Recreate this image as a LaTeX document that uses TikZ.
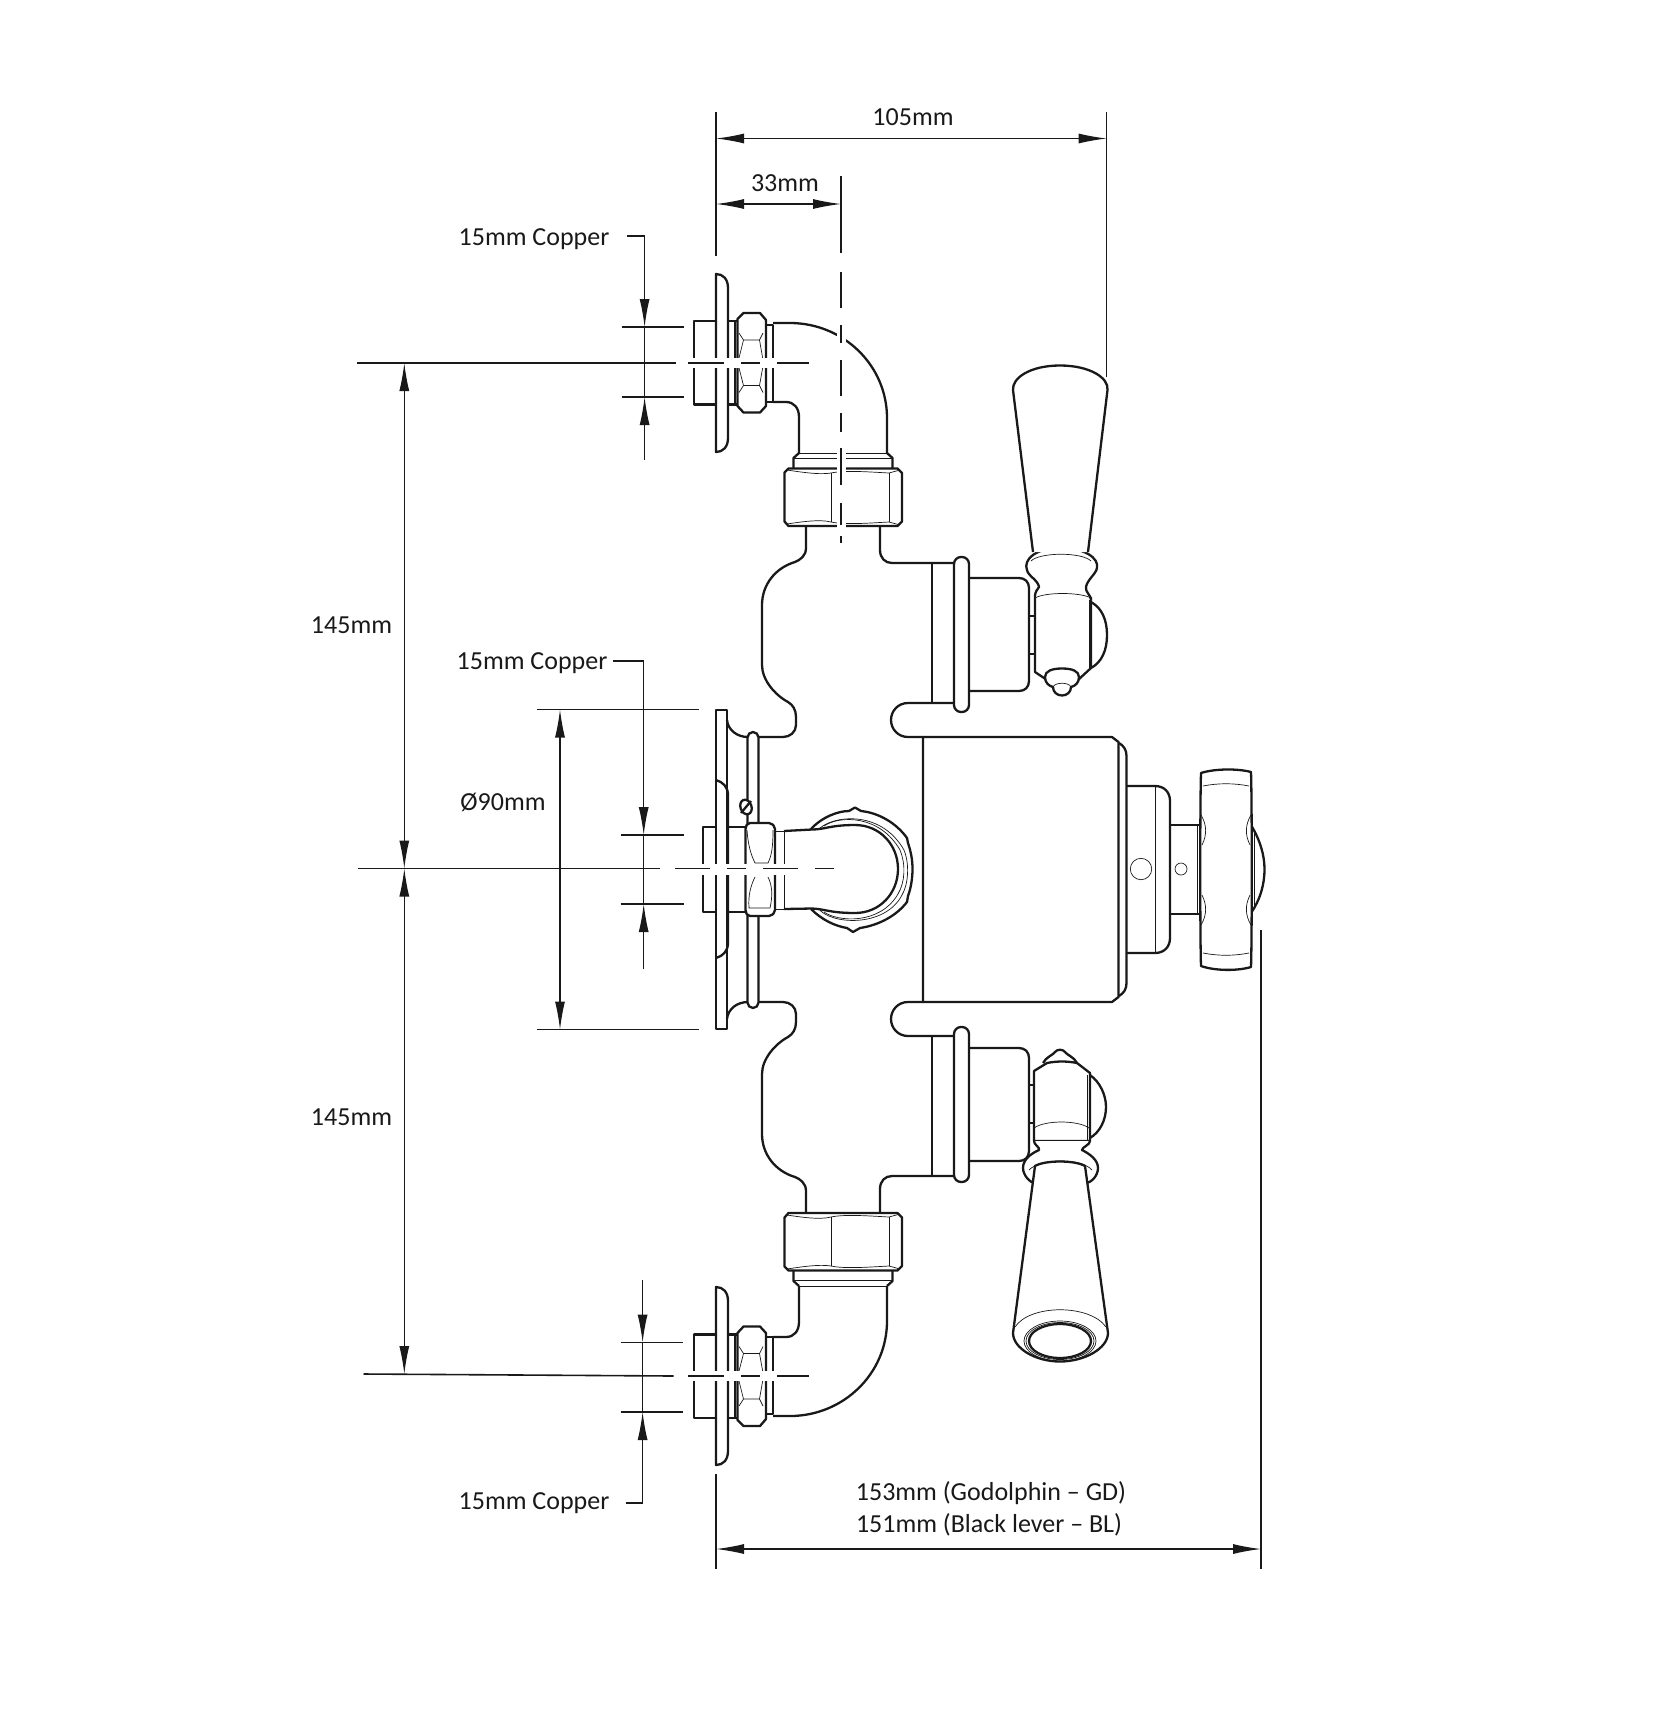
\documentclass[tikz,border=0pt]{standalone}
\usepackage{fontspec}
\setmainfont{Carlito}
\usetikzlibrary{arrows.meta}

% one elbow with its wall plate, drawn for the top inlet and mirrored for the bottom one
\newcommand{\elbowpart}{%
  % plate
  \draw[part] (716,274) .. controls (723,274) and (728,279) .. (728,288) -- (728,438) .. controls (728,447) and (723,452) .. (716,452) -- cycle;
  % stub
  \draw[part] (716,321) -- (694,321) -- (694,404.5) -- (716,404.5);
  \draw[part] (728,321) -- (738,321) (728,404.5) -- (738,404.5) (735,321) -- (735,404.5);
  % small nut
  \draw[part,fill=white] (737.5,319) -- (743.5,313) -- (760,313) -- (766,320) -- (766,406) -- (760,412.5) -- (743.5,412.5) -- (737.5,406) -- cycle;
  \draw[fine] (739,333) -- (743.5,340) -- (759.5,340) -- (763,333);
  \draw[fine] (743.5,340) -- (738.5,360) (759.5,340) -- (763,360);
  \draw[fine] (739,392.5) -- (743.5,385.5) -- (759.5,385.5) -- (763,392.5);
  \draw[fine] (743.5,385.5) -- (738.5,366) (759.5,385.5) -- (763,366);
  \draw[part] (766,325) rectangle (773,402);
  % pipe
  \draw[part] (773,323) -- (790,323) .. controls (843,323) and (887,365) .. (887,418) -- (887,453);
  \draw[part] (773,402) -- (786,402) .. controls (794,402) and (799,408) .. (799,417) -- (799,453);
  \draw[part] (799,453) -- (793.5,458) -- (793.5,468) (887,453) -- (892.5,458) -- (892.5,468);
  \draw[fine] (799,453) -- (887,453) (793.5,458.5) -- (892.5,458.5);
  % big nut
  \draw[part,fill=white] (784.5,472.5) -- (788.5,468.5) -- (897.5,468.5) -- (902,473) -- (902,521.5) -- (897.5,526) -- (788.5,526) -- (784.5,521.5) -- cycle;
  \draw[fine] (831,473) -- (831,522) (889,473) -- (889,522);
  \draw[fine] (787,470) .. controls (800,472) and (820,475) .. (831,473) .. controls (845,470) and (870,472) .. (889,473) -- (900,470);
  \draw[fine] (787,524) .. controls (800,522) and (820,519) .. (831,522) .. controls (845,525) and (870,523) .. (889,522) -- (900,525);
}

% one half of the valve body, mirrored for the other half
\newcommand{\bodypart}{%
  \draw[part] (806,526) -- (806,548) .. controls (806,556) and (800,560) .. (795,562) .. controls (775,568) and (762,585) .. (762,605) -- (762,665) .. controls (762,680) and (775,695) .. (788,702) .. controls (793,705) and (796,710) .. (796,717) -- (796,725) .. controls (796,732) and (790,737) .. (783,737) -- (759,737);
  \draw[part] (727,720) .. controls (728,730) and (737,737) .. (748,737);
  \draw[part] (880,526) -- (880,550) .. controls (880,558) and (885,563) .. (892,563) -- (954,563);
  \draw[part] (954,703) -- (908,703) .. controls (898,703) and (891,711) .. (891,720) .. controls (891,729) and (898,737) .. (908,737) -- (923,737);
  \draw[part] (932,563) -- (932,703);
  \draw[part,rounded corners=7pt] (954,557) rectangle (969,712);
  \draw[part] (969,578) -- (1019,578) .. controls (1025,578) and (1029,582) .. (1029,588) -- (1029,681) .. controls (1029,687) and (1025,691) .. (1019,691) -- (969,691);
  \draw[part] (1029,616) -- (1035,616) (1029,654) -- (1035,654);
}

\begin{document}
\begin{tikzpicture}[x=1pt,y=-1pt,
  part/.style={line width=2.3pt,line join=round,black!90},
  fine/.style={line width=0.7pt,black!90},
  dimline/.style={line width=1.2pt,black!90},
  tickline/.style={line width=1.6pt,black!90},
  dimarrow/.style={dimline,{Latex[length=28pt,width=10pt]}-{Latex[length=28pt,width=10pt]}},
  onearrow/.style={dimline,-{Latex[length=28pt,width=10pt]}},
  centre/.style={line width=1.5pt,black!90},
  gap/.style={white,line width=9pt},
  label/.style={font=\fontsize{26}{28}\selectfont,text=black!90,inner sep=0pt}]
\useasboundingbox (0,0) rectangle (1676,1722);

% Body and elbows
\bodypart
\begin{scope}[shift={(0,869.5)},yscale=-1,shift={(0,-869.5)}]
  \bodypart
  \elbowpart
\end{scope}
\elbowpart

% Middle plate and ring
\draw[part] (716,710) rectangle (727,1029);
\draw[part] (716,780) .. controls (723,782) and (728,787) .. (728,795) -- (728,943) .. controls (728,951) and (723,956) .. (716,958);
\draw[part,rounded corners=5.5pt] (747.5,732) rectangle (758.5,1008);
\draw[part,fill=white,rotate around={20:(746,807)}] (746,807) ellipse (5.5 and 7.5);
\draw[part] (741,813) -- (751,801);
\draw[part] (716,827) -- (703,827) -- (703,912) -- (716,912);
\draw[part] (727,827) -- (746,827) (727,912) -- (746,912);

% Hex nut behind the middle pipe
\draw[part,fill=white] (811,829) .. controls (822,817) and (838,811) .. (849,811) -- (855,807.5) -- (861,811) .. controls (880,813) and (897,824) .. (907,838) -- (908,843) .. controls (911,852) and (912.5,860) .. (912.5,869) .. controls (912.5,878) and (911,888) .. (908,896) -- (907,902) .. controls (897,915) and (880,925) .. (860,928) -- (853,932) -- (847,928) .. controls (835,926) and (822,920) .. (811,909);
\draw[fine] (818,830) .. controls (830,816) and (880,808) .. (904,850) .. controls (910,865) and (908,885) .. (902,895) .. controls (885,928) and (830,925) .. (818,908);
\draw[fine] (824,826) .. controls (840,815) and (880,815) .. (900,850) .. controls (906,865) and (905,882) .. (898,894) .. controls (880,925) and (838,922) .. (824,912);

% Middle pipe
\draw[part,fill=white] (784,831) -- (812,829.5) .. controls (825,829.5) and (830,825) .. (855,825) .. controls (880,825) and (898,845) .. (898,869) .. controls (898,893) and (880,913) .. (855,913) .. controls (830,913) and (825,909) .. (812,908.5) -- (784,909);
\draw[fine] (775,831) rectangle (784,909);

% Middle nut
\draw[part,fill=white,rounded corners=2pt] (745.5,827) -- (748,823) -- (771,823) -- (775,827) -- (775,912) -- (771,916) -- (748,916) -- (745.5,912) -- cycle;
\draw[fine] (747,830) .. controls (748,845) and (751,855) .. (755,863) -- (768,863) .. controls (772,855) and (773,845) .. (773,830);
\draw[fine] (755,877) .. controls (751,885) and (748,895) .. (749,908) -- (770,908) .. controls (773,895) and (772,885) .. (768,877);

% Thermostat cylinder
\draw[part] (1119,743) .. controls (1124,746) and (1126.5,750) .. (1126.5,756) -- (1126.5,983) .. controls (1126.5,989) and (1124,993) .. (1119,996);
\draw[part] (923,737) -- (923,1002) -- (1112,1002) -- (1118.5,997) -- (1118.5,742) -- (1112,737) -- cycle;
\draw[part] (1126.5,786) -- (1155,786) .. controls (1164,786) and (1170,792) .. (1170,801) -- (1170,938) .. controls (1170,947) and (1164,953) .. (1155,953) -- (1126.5,953);
\draw[fine] (1155.5,786) -- (1155.5,953);
\draw[fine] (1141,869) circle (10.7);
\draw[fine] (1181,869) circle (6);
\draw[part] (1170,825) -- (1200,825) (1170,914) -- (1200,914);
\draw[fine] (1197,825) -- (1197,914);

% Cross handle
\draw[part] (1251,825) .. controls (1260,840) and (1264.5,855) .. (1264.5,869) .. controls (1264.5,885) and (1260,900) .. (1251,913);
\draw[fine] (1254,832) -- (1254,906);
\draw[part,fill=white] (1201,773) .. controls (1215,768.5) and (1238,768.5) .. (1251,772) .. controls (1252,800) and (1252,940) .. (1251,967) .. controls (1238,971) and (1215,971) .. (1201,966) .. controls (1200,940) and (1200,800) .. (1201,773) -- cycle;
\draw[fine] (1203,786) .. controls (1218,783) and (1234,783) .. (1249,786);
\draw[fine] (1203,953) .. controls (1218,956) and (1234,956) .. (1249,953);
\draw[fine] (1201,815) .. controls (1207,825) and (1207,835) .. (1202,845);
\draw[fine] (1202,895) .. controls (1207,905) and (1207,915) .. (1201,925);
\draw[fine] (1251,815) .. controls (1245,825) and (1245,835) .. (1250,845);
\draw[fine] (1250,895) .. controls (1245,905) and (1245,915) .. (1251,925);

% Top lever
\draw[part] (1091,602) .. controls (1102,608) and (1107,620) .. (1107,635) .. controls (1107,650) and (1102,662) .. (1091,668);
\draw[part,fill=white] (1035,597) -- (1035,672) -- (1047,680) -- (1078,680) -- (1091,668) -- (1091,597);
\draw[fine] (1089,600) -- (1089,668);
\draw[part,fill=white] (1045,677) .. controls (1045,671) and (1052,668.5) .. (1062,668.5) .. controls (1072,668.5) and (1079,671) .. (1079,677) .. controls (1079,683) and (1075,686) .. (1071,687) .. controls (1071,692) and (1067,695.5) .. (1062,695.5) .. controls (1057,695.5) and (1053,692) .. (1053,687) .. controls (1049,686) and (1045,683) .. (1045,677) -- cycle;
\draw[fine] (1053,687) .. controls (1055,682) and (1069,682) .. (1071,687);
\draw[part,fill=white] (1035,597) .. controls (1035,590) and (1038,590) .. (1039,587) .. controls (1038,580) and (1028,576) .. (1027,570) .. controls (1023,560) and (1035,548) .. (1060,548) .. controls (1085,548) and (1099,558) .. (1097,568) .. controls (1096,574) and (1087,580) .. (1086,587) .. controls (1085,592) and (1091,595) .. (1091,600);
\draw[fine] (1035,598) .. controls (1045,592) and (1080,592) .. (1091,598);
\draw[fine] (1031,561) .. controls (1040,552) and (1082,552) .. (1091,561);
\draw[part,fill=white] (1033,552) -- (1013,390) .. controls (1012,378) and (1030,365.5) .. (1060,365.5) .. controls (1090,365.5) and (1109,378) .. (1107.5,390) -- (1088,552);

% Bottom lever
\draw[part] (1090,1075) .. controls (1100,1082) and (1106,1095) .. (1106,1107) .. controls (1106,1120) and (1100,1132) .. (1090,1138);
\draw[part,fill=white] (1043,1063) .. controls (1046,1057) and (1053,1055) .. (1055,1052) .. controls (1057,1049) and (1063,1049) .. (1065,1052) .. controls (1067,1055) and (1074,1057) .. (1077,1063);
\draw[part,fill=white] (1034,1071) -- (1047,1063) .. controls (1057,1061) and (1067,1061) .. (1077,1063) -- (1090,1073) -- (1090,1141) -- (1034,1141) -- cycle;
\draw[fine] (1087,1075) -- (1087,1140);
\draw[fine] (1034,1128) .. controls (1045,1120) and (1078,1120) .. (1089,1128);
\draw[part,fill=white] (1034,1141) .. controls (1034,1145) and (1040,1147) .. (1039,1150) .. controls (1030,1154) and (1023,1160) .. (1023,1168) .. controls (1023,1175) and (1030,1183) .. (1035,1183) -- (1085,1183) .. controls (1092,1183) and (1098,1175) .. (1098,1168) .. controls (1098,1160) and (1090,1154) .. (1082,1150) .. controls (1082,1147) and (1090,1145) .. (1090,1141);
\draw[part,fill=white] (1035,1166) .. controls (1045,1160) and (1075,1160) .. (1085,1166) -- (1108,1333) .. controls (1108,1348) and (1085,1361.5) .. (1060,1361.5) .. controls (1035,1361.5) and (1013,1348) .. (1013,1333) -- cycle;
\draw[fine] (1029,1170) .. controls (1040,1158) and (1082,1158) .. (1092,1170);
\draw[fine] (1015,1327) .. controls (1030,1304) and (1090,1304) .. (1106,1327);
\draw[part] (1060,1341) ellipse (31 and 17);
\draw[fine] (1060,1341) ellipse (34 and 18.5);
\draw[fine] (1060,1341) ellipse (36 and 20);

% Centre lines
\draw[gap,line width=10pt] (680,363) -- (812,363);
\draw[gap,line width=10pt] (680,1376) -- (812,1376);
\draw[gap,line width=11pt] (695,869) -- (790,869);
\draw[gap] (841,320) -- (841,345);
\draw[gap] (841,450) -- (841,530);
\foreach \a/\b in {176/253,272/308,325/343,360/396,413/432,448/485,503/525,536/543}{
  \draw[centre] (841,\a) -- (841,\b);
}
\foreach \y in {363,1376}{
  \foreach \a/\b in {688/724,741/760,777/809}{
    \draw[centre] (\a,\y) -- (\b,\y);
  }
}
\foreach \a/\b in {675/710,727/746,763/798,815/834}{
  \draw[centre] (\a,868.5) -- (\b,868.5);
}

% Dimension end points
\coordinate (W0) at (716,112);
\coordinate (W1) at (716,256);
\coordinate (W2) at (1106.7,112);
\coordinate (W3) at (1106.7,377);
\coordinate (A0) at (716,138.5);
\coordinate (A1) at (1106.7,138.5);
\coordinate (B0) at (716,204);
\coordinate (B1) at (841,204);
\coordinate (H0) at (357,363);
\coordinate (H1) at (676,363);
\coordinate (H2) at (358,868.5);
\coordinate (H3) at (660,868.5);
\coordinate (H4) at (363.5,1374);
\coordinate (H5) at (673.5,1376);
\coordinate (D0) at (404.3,363);
\coordinate (D1) at (404.3,868.5);
\coordinate (D2) at (404.3,1374);
\coordinate (C0) at (537,709.5);
\coordinate (C1) at (698.5,709.5);
\coordinate (C2) at (537,1029.5);
\coordinate (C3) at (698.5,1029.5);
\coordinate (C4) at (560,709.5);
\coordinate (C5) at (560,1029.5);
\coordinate (F0) at (716,1474);
\coordinate (F1) at (716,1569);
\coordinate (F2) at (1261,930);
\coordinate (F3) at (1261,1569);
\coordinate (F4) at (716,1549);
\coordinate (F5) at (1261,1549);

% Dimensions
\draw[dimline] (W0) -- (W1);
\draw[dimline] (W2) -- (W3);
\draw[dimarrow] (A0) -- (A1);
\draw[dimarrow] (B0) -- (B1);
\draw[tickline] (H0) -- (H1);
\draw[tickline] (H2) -- (H3);
\draw[tickline] (H4) -- (H5);
\draw[dimarrow] (D0) -- (D1);
\draw[dimarrow] (D1) -- (D2);
\draw[tickline] (C0) -- (C1);
\draw[tickline] (C2) -- (C3);
\draw[dimarrow] (C4) -- (C5);
\draw[dimline] (F0) -- (F1);
\draw[dimline] (F2) -- (F3);
\draw[dimarrow] (F4) -- (F5);

% Copper pipe leaders
\coordinate (P0) at (627,236);
\coordinate (P1) at (644.6,236);
\coordinate (P2) at (644.6,327);
\coordinate (P3) at (644.6,397);
\coordinate (P4) at (644.6,460);
\draw[dimline] (P0) -- (P1);
\draw[onearrow] (P1) -- (P2);
\draw[dimline] (P2) -- (P3);
\draw[onearrow] (P4) -- (P3);
\coordinate (Q0) at (613,661);
\coordinate (Q1) at (643.7,661);
\coordinate (Q2) at (643.7,835);
\coordinate (Q3) at (643.7,904);
\coordinate (Q4) at (643.7,969);
\draw[dimline] (Q0) -- (Q1);
\draw[onearrow] (Q1) -- (Q2);
\draw[dimline] (Q2) -- (Q3);
\draw[onearrow] (Q4) -- (Q3);
\coordinate (R0) at (626,1503);
\coordinate (R1) at (642.6,1503);
\coordinate (R2) at (642.6,1412);
\coordinate (R3) at (642.6,1342.5);
\coordinate (R4) at (642.6,1280);
\draw[dimline] (R0) -- (R1);
\draw[onearrow] (R1) -- (R2);
\draw[dimline] (R2) -- (R3);
\draw[onearrow] (R4) -- (R3);

% Ticks
\foreach \y in {327,397}{
  \draw[tickline] (621.5,\y) -- (684,\y);
}
\foreach \y in {835,904}{
  \draw[tickline] (620.5,\y) -- (684,\y);
}
\foreach \y in {1342.5,1412}{
  \draw[tickline] (620.5,\y) -- (683,\y);
}

% Labels
\node[label] (lblA) at (913,117) {105mm};
\node[label] (lblB) at (785,183) {33mm};
\node[label] (lblP) at (534,239) {15mm Copper};
\node[label] (lblH0) at (351.5,625) {145mm};
\node[label] (lblQ) at (532,663.5) {15mm Copper};
\node[label] (lblC) at (503,802) {Ø90mm};
\node[label] (lblH1) at (351.5,1117) {145mm};
\node[label] (lblR) at (534,1503) {15mm Copper};
\node[label] (lblF0) at (991,1493) {153mm (Godolphin – GD)};
\node[label] (lblF1) at (989,1525) {151mm (Black lever – BL)};
\end{tikzpicture}
\end{document}
